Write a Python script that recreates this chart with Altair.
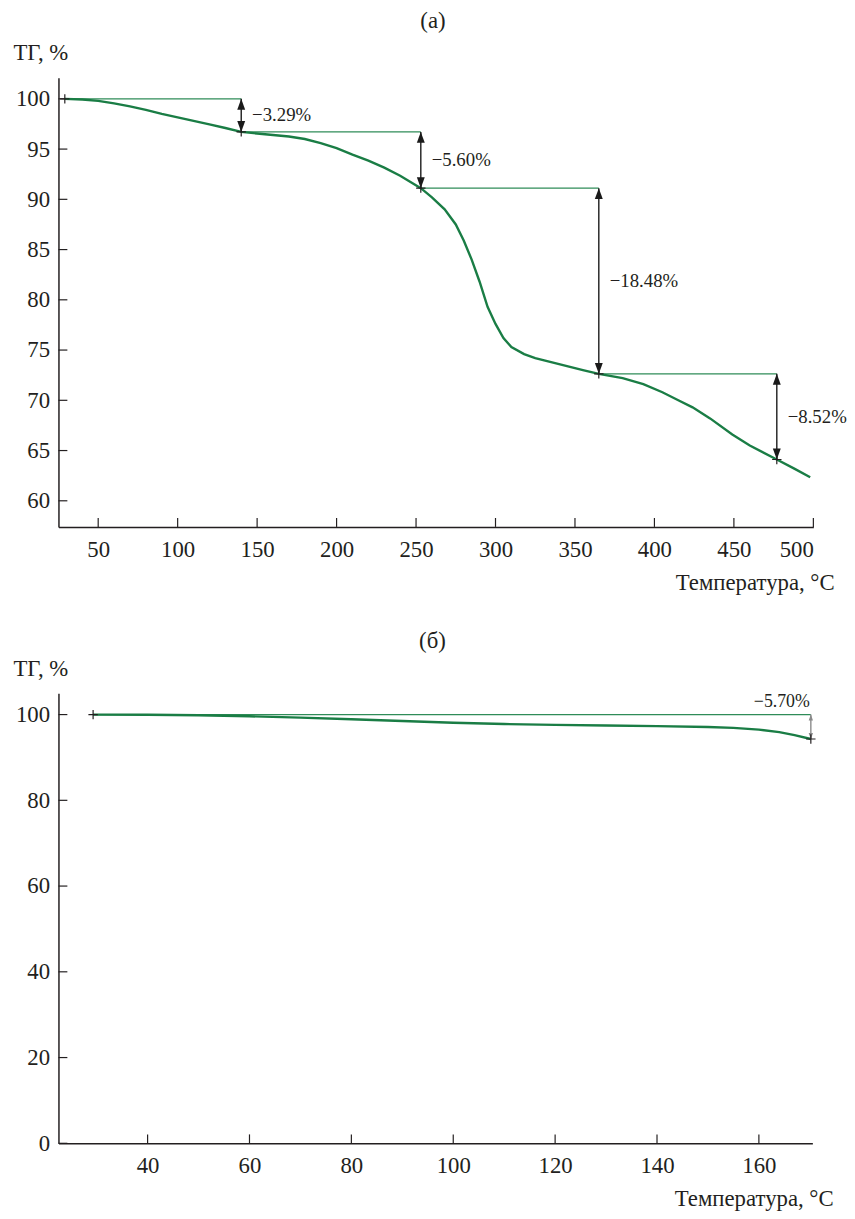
import altair as alt
import pandas as pd

FONT = "Liberation Serif"
INK = "#231f20"
GREEN = "#1a7d45"
LEVEL_GREEN = "#2f8c58"

# ---- panel (a) curve ----
T_a = [29, 40, 50, 60, 70, 80, 90, 100, 110, 120, 130, 140, 150, 160, 170, 180,
       190, 200, 210, 220, 230, 240, 253, 260, 268, 275, 280, 285, 290, 295,
       300, 305, 310, 318, 325, 335, 345, 355, 365, 380, 393, 405, 415, 424,
       435, 449, 460, 477, 488, 498]
TG_a = [100.0, 99.93, 99.8, 99.55, 99.25, 98.9, 98.5, 98.15, 97.8, 97.45, 97.1,
        96.71, 96.55, 96.4, 96.25, 96.0, 95.6, 95.1, 94.45, 93.85, 93.15, 92.35,
        91.11, 90.2, 89.0, 87.5, 85.9, 84.0, 81.8, 79.3, 77.6, 76.2, 75.3, 74.6,
        74.2, 73.8, 73.4, 73.0, 72.63, 72.2, 71.6, 70.8, 70.0, 69.3, 68.2, 66.6,
        65.5, 64.11, 63.2, 62.35]
step_T_a = [29, 140, 253, 365, 477]
step_TG_a = [100.0, 96.71, 91.11, 72.63, 64.11]
loss_a = ["\u22123.29%", "\u22125.60%", "\u221218.48%", "\u22128.52%"]
xticks_a = [50, 100, 150, 200, 250, 300, 350, 400, 450, 500]
yticks_a = [60, 65, 70, 75, 80, 85, 90, 95, 100]

# ---- panel (б) curve ----
T_b = [29.3, 40, 50, 60, 70, 80, 90, 100, 110, 120, 130, 140, 150, 155, 160,
       164, 167, 170.2]
TG_b = [100.0, 99.95, 99.85, 99.6, 99.3, 98.9, 98.5, 98.1, 97.8, 97.6, 97.45,
        97.3, 97.1, 96.9, 96.5, 95.9, 95.2, 94.3]
step_T_b = [29.3, 170.2]
step_TG_b = [100.0, 94.3]
loss_b = ["\u22125.70%"]
xticks_b = [40, 60, 80, 100, 120, 140, 160]
yticks_b = [0, 20, 40, 60, 80, 100]

UP = "M0,0L0.8,2.2L-0.8,2.2Z"
DOWN = "M0,0L0.8,-2.2L-0.8,-2.2Z"
CROSS = "M-1,0L1,0M0,-1L0,1"
TICK = 9


def make_axis(values, title, orient, W):
    common = dict(values=values, title=title, ticks=False, grid=False,
                  domainColor=INK, domainWidth=1.5, labelFont=FONT,
                  labelFontSize=23, labelColor=INK, titleFont=FONT,
                  titleFontSize=23, titleColor=INK, titleFontWeight="normal",
                  titleAngle=0, titleBaseline="alphabetic")
    if orient == "x":
        common.update(labelPadding=12, titleAlign="right", titleX=W + 21,
                      titleY=63)
    else:
        common.update(labelPadding=9, titleAlign="left", titleX=-46, titleY=-18)
    return alt.Axis(**common)


def panel(T, TG, sT, sTG, losses, xdom, ydom, xt, yt, W, H, title, title_y,
          label_mode, arrow_color, head_size, label_size):
    curve = pd.DataFrame({"T": T, "TG": TG})
    n = len(sT) - 1
    levels = pd.DataFrame({"x": sT[:-1], "x2": sT[1:], "y": sTG[:-1]})
    arrows = pd.DataFrame({"x": sT[1:], "y": sTG[:-1], "y2": sTG[1:],
                           "mid": [(sTG[i] + sTG[i + 1]) / 2 for i in range(n)],
                           "label": losses})
    pts = pd.DataFrame({"x": sT, "y": sTG})

    xs = alt.Scale(domain=xdom, nice=False, zero=False)
    ys = alt.Scale(domain=ydom, nice=False, zero=False)

    line = alt.Chart(curve).mark_line(color=GREEN, strokeWidth=2.4).encode(
        x=alt.X("T:Q", scale=xs, axis=make_axis(xt, "Температура, °C", "x", W)),
        y=alt.Y("TG:Q", scale=ys, axis=make_axis(yt, "ТГ, %", "y", W)))
    xtk = alt.Chart(pd.DataFrame({"v": xt})).mark_rule(
        color=INK, strokeWidth=1.2).encode(
        x="v:Q", y=alt.value(H), y2=alt.value(H - TICK))
    ytk = alt.Chart(pd.DataFrame({"v": yt})).mark_rule(
        color=INK, strokeWidth=1.2).encode(
        y="v:Q", x=alt.value(0), x2=alt.value(TICK))
    lev = alt.Chart(levels).mark_rule(color=LEVEL_GREEN, strokeWidth=1.3).encode(
        x="x:Q", x2="x2:Q", y="y:Q")
    arr = alt.Chart(arrows).mark_rule(color=arrow_color, strokeWidth=1.4).encode(
        x="x:Q", y="y:Q", y2="y2:Q")
    hu = alt.Chart(arrows).mark_point(shape=UP, filled=True, color=arrow_color,
                                      size=head_size, opacity=1).encode(
        x="x:Q", y="y:Q")
    hd = alt.Chart(arrows).mark_point(shape=DOWN, filled=True, color=arrow_color,
                                      size=head_size, opacity=1).encode(
        x="x:Q", y="y2:Q")
    cr = alt.Chart(pts).mark_point(shape=CROSS, filled=False, color=INK,
                                   strokeWidth=1.2, size=90, opacity=1).encode(
        x="x:Q", y="y:Q")
    if label_mode == "side":
        txt = alt.Chart(arrows).mark_text(align="left", baseline="middle", dx=11,
                                          font=FONT, fontSize=label_size,
                                          color=INK).encode(
            x="x:Q", y="mid:Q", text="label:N")
    else:
        txt = alt.Chart(arrows).mark_text(align="right", baseline="alphabetic",
                                          dx=-1, dy=-8, font=FONT,
                                          fontSize=label_size, color=INK).encode(
            x="x:Q", y="y:Q", text="label:N")
    ttl = alt.Chart(pd.DataFrame({"t": [title]})).mark_text(
        font=FONT, fontSize=23, color=INK, align="center",
        baseline="alphabetic").encode(
        text="t:N", x=alt.value(W / 2 - 3), y=alt.value(title_y))
    return alt.layer(xtk, ytk, lev, line, arr, hu, hd, cr, txt, ttl).properties(
        width=W, height=H)


top = panel(T_a, TG_a, step_T_a, step_TG_a, loss_a, [25, 500], [57.4, 102.1],
            xticks_a, yticks_a, 763, 454, "(а)", -50, "side", "#1a1a1a", 100, 19)
bottom = panel(T_b, TG_b, step_T_b, step_TG_b, loss_b, [22.5, 170.5], [0, 105],
               xticks_b, yticks_b, 762, 455, "(б)", -46, "above", "#8a8a8a", 30, 18)

chart = alt.vconcat(top, bottom, spacing=36).configure_view(
    strokeWidth=0).properties(
    background="white",
    padding={"left": 5, "top": -4, "right": 0, "bottom": 0})

chart.save("out.html", embed_options={"renderer": "svg", "actions": False})
